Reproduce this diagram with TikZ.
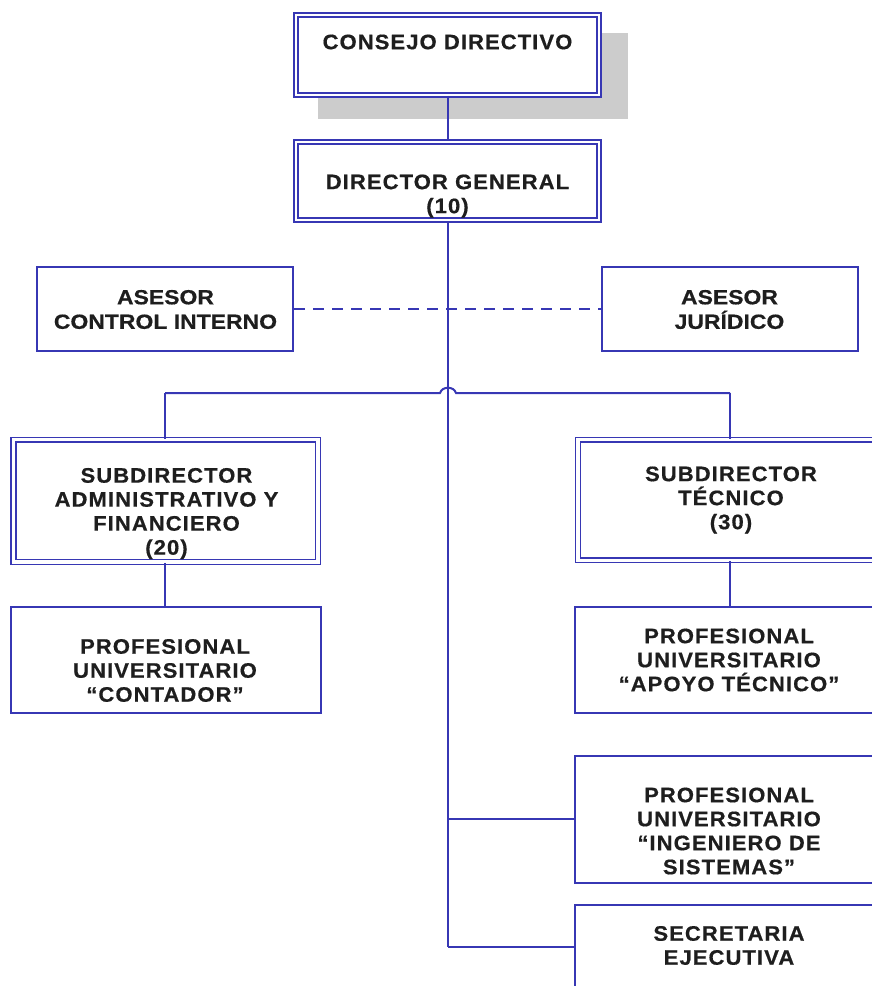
\documentclass[tikz,border=0pt]{standalone}
\usepackage{fontspec}
\newfontfamily\boxfont[LetterSpace=5,FakeStretch=1.05,BoldFeatures={FakeBold=0.5}]{Liberation Sans}
\newfontfamily\advfont[FakeStretch=1.12,BoldFeatures={FakeBold=0.5}]{Liberation Sans}
\definecolor{orgblue}{RGB}{55,55,180}
\definecolor{shadowgray}{RGB}{204,204,204}
\definecolor{ink}{RGB}{30,30,30}
\tikzset{
  unitbox/.style={draw=orgblue, line width=2pt, fill=white},
  dblbox/.style={draw=orgblue, line width=1.6pt, double=white, double distance=2.4pt},
  dblwide/.style={draw=orgblue, line width=1.6pt, double=white, double distance=3.2pt},
  label/.style={text=ink, inner sep=0pt, align=center,
    font=\boxfont\bfseries\fontsize{21}{24}\selectfont},
  advlabel/.style={text=ink, inner sep=0pt, align=center,
    font=\advfont\bfseries\fontsize{20.5}{24.5}\selectfont},
  link/.style={draw=orgblue, line width=2pt},
  advlink/.style={draw=orgblue, line width=2pt, dash pattern=on 11pt off 8pt},
}
\begin{document}
\begin{tikzpicture}[x=1pt, y=-1pt]
\useasboundingbox (0,0) rectangle (871,986);

% shadow behind the board box
\fill[shadowgray] (318,33) rectangle (628,119);

% main vertical trunk
\coordinate (trunktop) at (448,222);
\coordinate (trunkbot) at (448,947);
\coordinate (ingj) at (448,819);
\coordinate (secj) at (448,947);
\draw[link] (trunktop) -- (trunkbot);

% boxes
\node[dblbox, fill=white, minimum width=303pt, minimum height=80pt, inner sep=0pt] (cd) at (447.5,55) {};
\node[dblbox, fill=white, minimum width=303pt, minimum height=78pt, inner sep=0pt] (dg) at (447.5,181) {};
\node[unitbox, minimum width=256pt, minimum height=84pt, inner sep=0pt] (aci) at (165,309) {};
\node[unitbox, minimum width=256pt, minimum height=84pt, inner sep=0pt] (aju) at (729.5,309) {};
\node[dblwide, fill=white, minimum width=304.5pt, minimum height=122.3pt, inner sep=0pt] (sad) at (165.75,500.85) {};
\node[dblwide, fill=white, minimum width=320pt, minimum height=120.5pt, inner sep=0pt] (stc) at (738,500) {};
\node[unitbox, minimum width=310pt, minimum height=106pt, inner sep=0pt] (cont) at (166,660) {};
\node[unitbox, minimum width=320pt, minimum height=106pt, inner sep=0pt] (apo) at (735,660) {};
\node[unitbox, minimum width=320pt, minimum height=127pt, inner sep=0pt] (ing) at (735,819.5) {};
\node[unitbox, minimum width=320pt, minimum height=120pt, inner sep=0pt] (sec) at (735,965) {};

% connectors
\draw[link] (cd.south) -- (dg.north);
\draw[advlink] (aci.east) -- (aju.west);
\coordinate (hl) at (165,393);
\coordinate (hr) at (730,393);
\draw[link] (hl) -- (440,393) .. controls (442,386) and (454,386) .. (456,393) -- (hr);
\draw[link] (hl) -- (hl |- sad.north);
\draw[link] (hr) -- (hr |- stc.north);
\draw[link] (hl |- sad.south) -- (hl |- cont.north);
\draw[link] (hr |- stc.south) -- (hr |- apo.north);
\draw[link] (ingj) -- (ing.west |- ingj);
\draw[link] (secj) -- (sec.west |- secj);

% texts
\node[label] (cd-t) at (447.5,42) {CONSEJO DIRECTIVO};
\node[label] (dg-t) at (447.5,196) {DIRECTOR GENERAL\\(10)};
\node[advlabel] (aci-t) at (165.5,309.5) {ASESOR\\CONTROL INTERNO};
\node[advlabel] (aju-t) at (729.5,309.5) {ASESOR\\JURÍDICO};
\node[label] (sad-t) at (166.5,513.5) {SUBDIRECTOR\\ADMINISTRATIVO Y\\FINANCIERO\\(20)};
\node[label] (stc-t) at (731,500) {SUBDIRECTOR\\TÉCNICO\\(30)};
\node[label] (cont-t) at (165,670.5) {PROFESIONAL\\UNIVERSITARIO\\“CONTADOR”};
\node[label] (apo-t) at (729,660) {PROFESIONAL\\UNIVERSITARIO\\“APOYO TÉCNICO”};
\node[label] (ing-t) at (729,831) {PROFESIONAL\\UNIVERSITARIO\\“INGENIERO DE\\SISTEMAS”};
\node[label] (sec-t) at (729,945.5) {SECRETARIA\\EJECUTIVA};
\end{tikzpicture}
\end{document}
